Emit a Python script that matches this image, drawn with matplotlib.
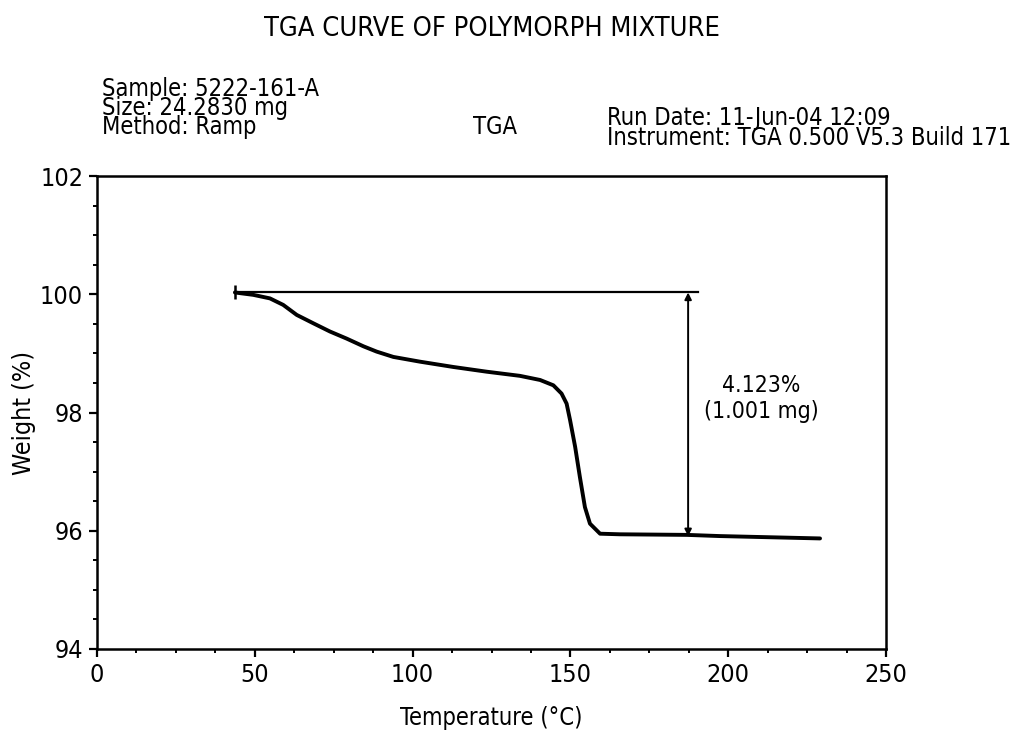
import matplotlib
matplotlib.use("Agg")
import matplotlib.pyplot as plt
from matplotlib.ticker import MultipleLocator

plt.rcParams['font.family'] = ['DejaVu Sans']
plt.rcParams['font.stretch'] = 'condensed'

# TGA weight-loss curve (temperature in degC, weight in %)
temperature = [43.7, 49.5, 54.8, 59.0, 63.3, 68.5, 73.8, 79.1, 84.4, 88.6, 93.9,
               102.3, 112.9, 123.5, 134.0, 140.4, 144.6, 147.2, 148.8, 149.9,
               151.5, 153.0, 154.6, 156.2, 159.4, 165.7, 186.9, 197.4, 229.1]
weight = [100.03, 99.99, 99.93, 99.82, 99.65, 99.51, 99.37, 99.25, 99.12, 99.03,
          98.94, 98.86, 98.77, 98.69, 98.62, 98.55, 98.46, 98.32, 98.15, 97.87,
          97.42, 96.91, 96.40, 96.12, 95.95, 95.94, 95.93, 95.91, 95.87]

# Step analysis
start_temp = 43.7
start_weight = 100.03
loss_pct = 4.123
loss_mg = 1.001
step_line_end = 190.4
arrow_temp = 187.3

x_ticks = [0, 50, 100, 150, 200, 250]
y_ticks = [94, 96, 98, 100, 102]

W, H = 1010, 738
fig = plt.figure(figsize=(W / 100, H / 100), dpi=100)
ax = fig.add_axes([97 / W, 1 - 649 / H, (886 - 97) / W, (649 - 176) / H])

ax.plot(temperature, weight, color='black', lw=2.8, solid_capstyle='round',
        solid_joinstyle='round')

# horizontal reference at the initial weight, with a start marker
ax.plot([start_temp, step_line_end], [start_weight, start_weight], color='black', lw=1.6)
ax.plot([start_temp], [start_weight], marker='|', markersize=10, mew=1.8, color='black')

end_weight = start_weight - loss_pct
ax.annotate('', xy=(arrow_temp, end_weight), xytext=(arrow_temp, start_weight),
            arrowprops=dict(arrowstyle='<|-|>', color='black', lw=1.4,
                            mutation_scale=10, shrinkA=0, shrinkB=0))

ax.text(210.4, 98.45, f'{loss_pct:.3f}%', ha='center', va='center', fontsize=16.5)
ax.text(210.4, 98.01, f'({loss_mg:.3f} mg)', ha='center', va='center', fontsize=16.5)

ax.set_xlim(0, 250)
ax.set_ylim(94, 102)
ax.set_xticks(x_ticks)
ax.set_yticks(y_ticks)
ax.xaxis.set_minor_locator(MultipleLocator(12.5))
ax.yaxis.set_minor_locator(MultipleLocator(0.5))
ax.tick_params(which='major', direction='out', length=6, width=1.6, labelsize=18, pad=4)
ax.tick_params(which='minor', direction='out', length=3, width=1.4)
for s in ax.spines.values():
    s.set_linewidth(1.8)

ax.set_xlabel('Temperature (°C)', fontsize=17, labelpad=14)
ax.set_ylabel('Weight (%)', fontsize=18, labelpad=3)

def ftext(x, y, s, **kw):
    fig.text(x / W, 1 - y / H, s, **kw)

ftext(492, 28.5, 'TGA CURVE OF POLYMORPH MIXTURE', ha='center', va='center', fontsize=19.5)
ftext(102, 96, 'Sample: 5222-161-A', ha='left', va='baseline', fontsize=17)
ftext(102, 115, 'Size: 24.2830 mg', ha='left', va='baseline', fontsize=17)
ftext(102, 134, 'Method: Ramp', ha='left', va='baseline', fontsize=17)
ftext(495, 134, 'TGA', ha='center', va='baseline', fontsize=17)
ftext(607, 125, 'Run Date: 11-Jun-04 12:09', ha='left', va='baseline', fontsize=17)
ftext(607, 145, 'Instrument: TGA 0.500 V5.3 Build 171', ha='left', va='baseline', fontsize=17)

fig.savefig('out.png', dpi=100)
